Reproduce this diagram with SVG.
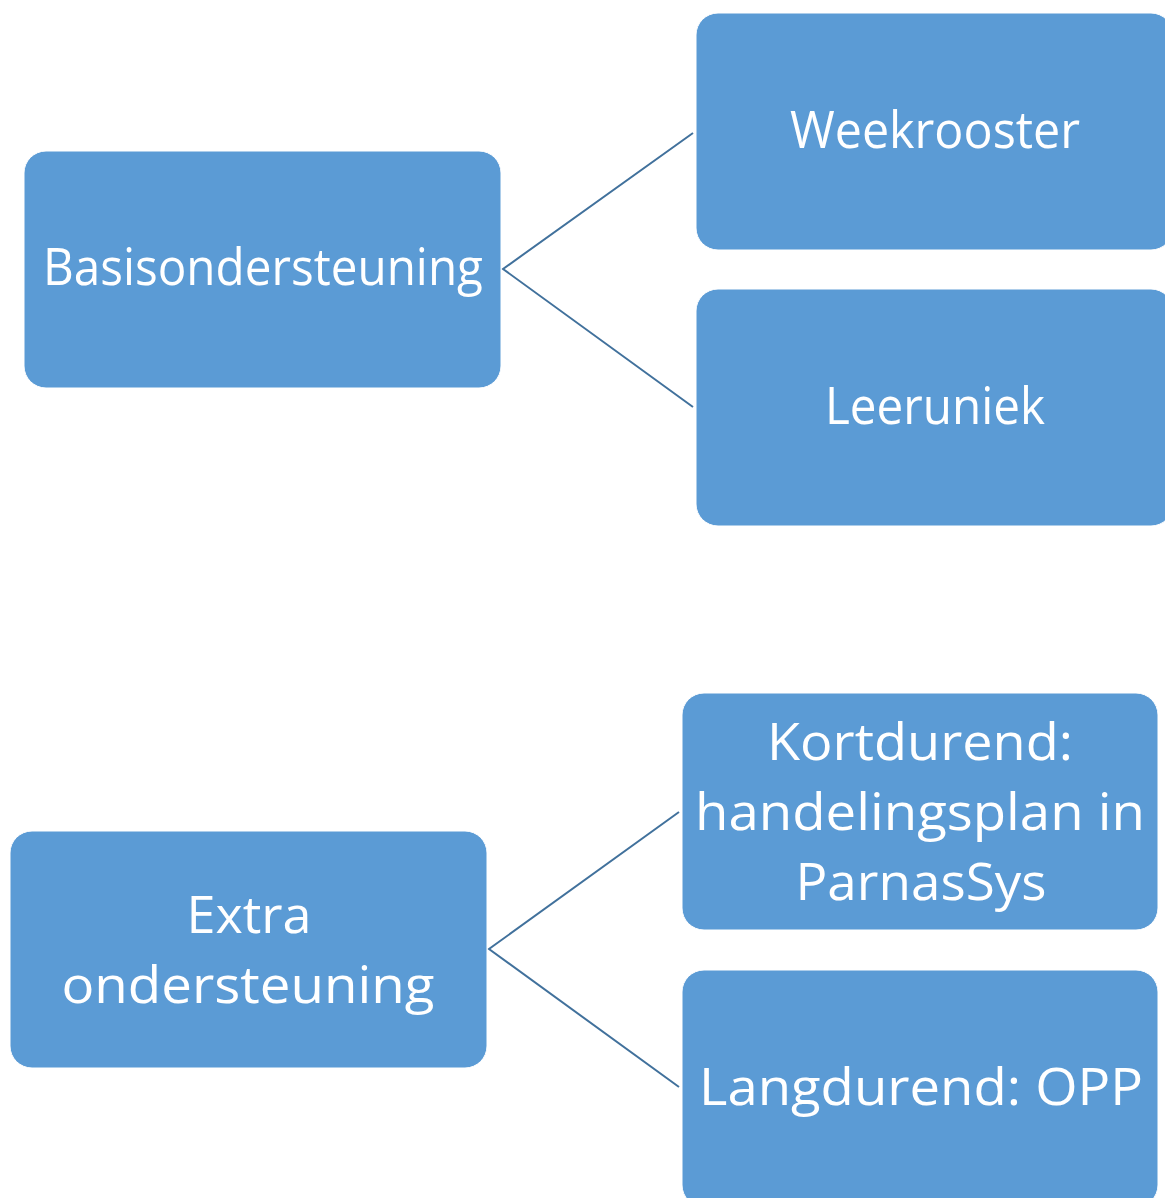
<svg xmlns="http://www.w3.org/2000/svg" width="1165" height="1198" viewBox="0 0 1165 1198">
<style>
.box{fill:#5B9BD5;stroke:#ffffff;stroke-width:1}
.lbl{font-family:"Open Sans","Liberation Sans",sans-serif;font-size:52px;fill:#ffffff;text-anchor:middle}
.con{stroke:#41719C;stroke-width:2;fill:none}
</style>
<rect width="1165" height="1198" fill="#ffffff"/>
<g id="connectors">
<polyline class="con" points="693,133 503,269 693,407"/>
<polyline class="con" points="679,812 489,949 679,1087"/>
</g>
<g id="basisondersteuning">
<rect class="box" x="24" y="151" width="477" height="237" rx="22"/>
<text class="lbl" x="263" y="285" textLength="440" lengthAdjust="spacingAndGlyphs">Basisondersteuning</text>
</g>
<g id="weekrooster">
<rect class="box" x="696" y="13" width="477" height="237" rx="22"/>
<text class="lbl" x="935" y="148" textLength="290" lengthAdjust="spacingAndGlyphs">Weekrooster</text>
</g>
<g id="leeruniek">
<rect class="box" x="696" y="289" width="477" height="237" rx="22"/>
<text class="lbl" x="935" y="424" textLength="220" lengthAdjust="spacingAndGlyphs">Leeruniek</text>
</g>
<g id="extra">
<rect class="box" x="10" y="831" width="477" height="237" rx="22"/>
<text class="lbl" x="249" y="933" textLength="125" lengthAdjust="spacingAndGlyphs">Extra</text>
<text class="lbl" x="248" y="1003" textLength="373" lengthAdjust="spacingAndGlyphs">ondersteuning</text>
</g>
<g id="kortdurend">
<rect class="box" x="682" y="693" width="476" height="237" rx="22"/>
<text class="lbl" x="920" y="760" textLength="306" lengthAdjust="spacingAndGlyphs">Kortdurend:</text>
<text class="lbl" x="920" y="830" textLength="450" lengthAdjust="spacingAndGlyphs">handelingsplan in</text>
<text class="lbl" x="921" y="900" textLength="251" lengthAdjust="spacingAndGlyphs">ParnasSys</text>
</g>
<g id="langdurend">
<rect class="box" x="682" y="970" width="476" height="237" rx="22"/>
<text class="lbl" x="921" y="1105" textLength="444" lengthAdjust="spacingAndGlyphs">Langdurend: OPP</text>
</g>
</svg>
